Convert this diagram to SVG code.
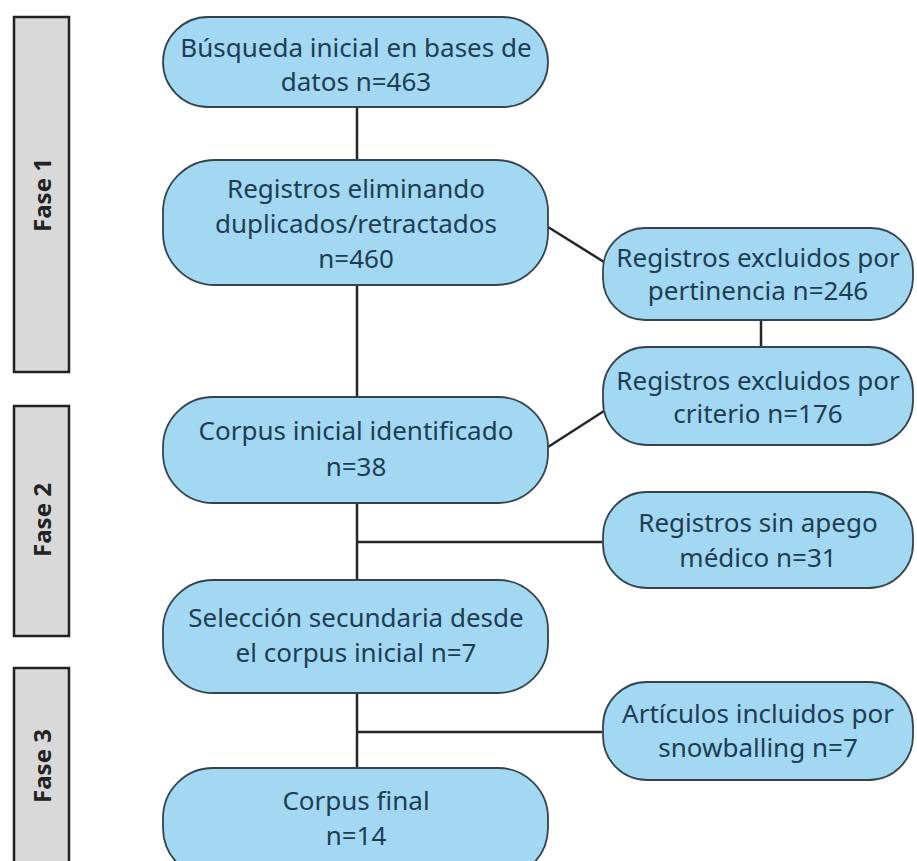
<svg xmlns="http://www.w3.org/2000/svg" width="917" height="861" viewBox="0 0 917 861">
<style>
.phase{fill:#d9d9d9;stroke:#222;stroke-width:2.5}
.ptxt{font-family:"Noto Sans","Open Sans",sans-serif;font-weight:bold;font-size:24px;fill:#222;text-anchor:middle}
.node{fill:#a3d8f2;stroke:#34444f;stroke-width:1.8}
.ntxt{font-family:"Noto Sans","Open Sans",sans-serif;font-size:26px;fill:#1e3d52;text-anchor:middle}
.conn{stroke:#262626;stroke-width:2.5;fill:none}
</style>
<rect width="917" height="861" fill="#ffffff"/>
<g id="fase1"><rect class="phase" x="14" y="17" width="55" height="355"/><text class="ptxt" transform="translate(51,195) rotate(-90)">Fase 1</text></g>
<g id="fase2"><rect class="phase" x="14" y="406" width="55" height="230"/><text class="ptxt" transform="translate(51,520) rotate(-90)">Fase 2</text></g>
<g id="fase3"><rect class="phase" x="14" y="668" width="55" height="200"/><text class="ptxt" transform="translate(51,766) rotate(-90)">Fase 3</text></g>
<g id="connectors">
<line class="conn" x1="357" y1="107" x2="357" y2="160"/>
<line class="conn" x1="357" y1="285" x2="357" y2="397"/>
<line class="conn" x1="548" y1="227" x2="604" y2="262"/>
<line class="conn" x1="761" y1="320" x2="761" y2="347"/>
<line class="conn" x1="548" y1="447" x2="604" y2="411"/>
<line class="conn" x1="357" y1="503" x2="357" y2="580"/>
<line class="conn" x1="357" y1="542" x2="602" y2="542"/>
<line class="conn" x1="357" y1="693" x2="357" y2="768"/>
<line class="conn" x1="357" y1="732" x2="602" y2="732"/>
</g>
<g id="n1"><rect class="node" x="163" y="17" width="385" height="90" rx="45"/><text class="ntxt" x="356" y="57">Búsqueda inicial en bases de</text><text class="ntxt" x="356" y="91">datos n=463</text></g>
<g id="n2"><rect class="node" x="163" y="160" width="385" height="125" rx="52"/><text class="ntxt" x="356" y="198">Registros eliminando</text><text class="ntxt" x="356" y="233">duplicados/retractados</text><text class="ntxt" x="356" y="268">n=460</text></g>
<g id="n3"><rect class="node" x="163" y="397" width="385" height="106" rx="50"/><text class="ntxt" x="356" y="440">Corpus inicial identificado</text><text class="ntxt" x="356" y="476">n=38</text></g>
<g id="n4"><rect class="node" x="163" y="580" width="385" height="113" rx="50"/><text class="ntxt" x="356" y="627">Selección secundaria desde</text><text class="ntxt" x="356" y="662">el corpus inicial n=7</text></g>
<g id="n5"><rect class="node" x="163" y="768" width="385" height="110" rx="50"/><text class="ntxt" x="356" y="810">Corpus final</text><text class="ntxt" x="356" y="845">n=14</text></g>
<g id="r1"><rect class="node" x="603" y="228" width="310" height="92" rx="42"/><text class="ntxt" x="758" y="267">Registros excluidos por</text><text class="ntxt" x="758" y="300">pertinencia n=246</text></g>
<g id="r2"><rect class="node" x="603" y="347" width="310" height="98" rx="44"/><text class="ntxt" x="758" y="390">Registros excluidos por</text><text class="ntxt" x="758" y="423">criterio n=176</text></g>
<g id="r3"><rect class="node" x="603" y="492" width="310" height="96" rx="44"/><text class="ntxt" x="758" y="532">Registros sin apego</text><text class="ntxt" x="758" y="567">médico n=31</text></g>
<g id="r4"><rect class="node" x="603" y="682" width="310" height="98" rx="44"/><text class="ntxt" x="758" y="723">Artículos incluidos por</text><text class="ntxt" x="758" y="757">snowballing n=7</text></g>
</svg>
